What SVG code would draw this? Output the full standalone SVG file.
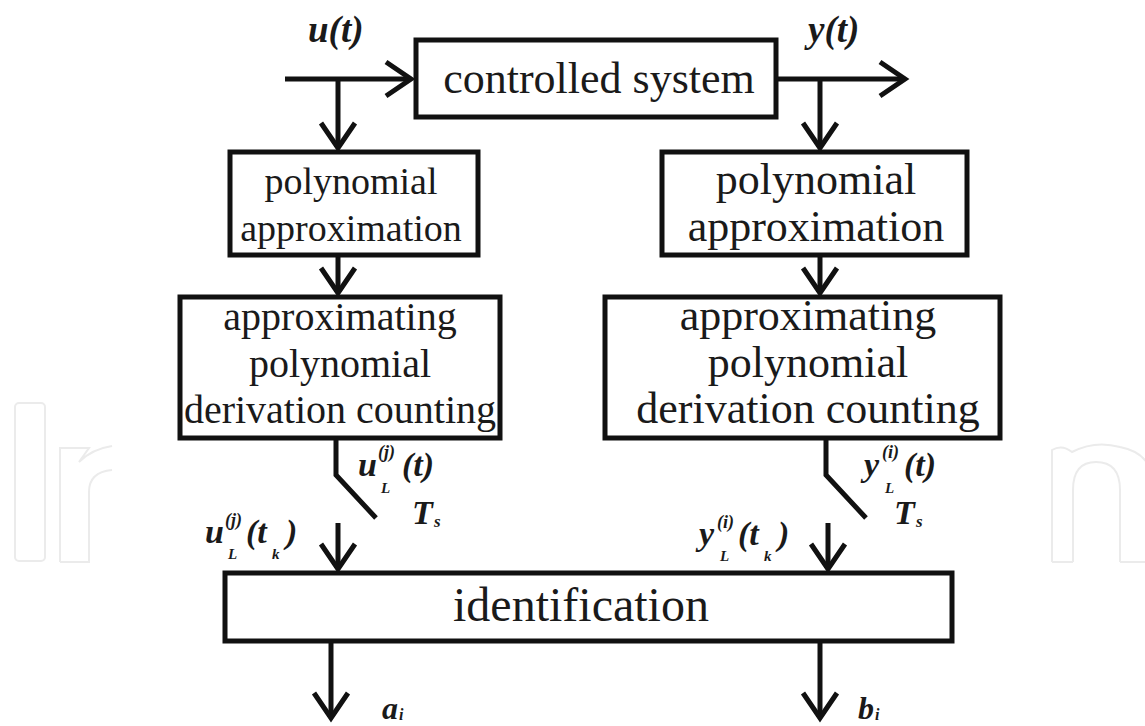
<svg xmlns="http://www.w3.org/2000/svg" width="1145" height="726" viewBox="0 0 1145 726">
<defs>
<style>
.box{fill:#fff;stroke:#111;stroke-width:5}
.ln{fill:none;stroke:#111;stroke-width:5}
.t{font-family:"Liberation Serif","Times New Roman",serif;text-anchor:middle;fill:#1a1a1a}
.s44{font-size:44px}
.s40{font-size:40px}
.s38{font-size:38px}
.s48{font-size:48px}
.v{font-family:"Liberation Serif","Times New Roman",serif;font-weight:bold;font-style:italic;fill:#1a1a1a}
.wm{fill:none;stroke:#ebebeb;stroke-width:2}
</style>
<marker id="ah" markerUnits="userSpaceOnUse" markerWidth="40" markerHeight="40" viewBox="-30 -20 34 40" refX="0" refY="0" orient="auto">
<path d="M-25,-17 L0,0 L-25,17" fill="none" stroke="#111" stroke-width="5"/>
</marker>
</defs>
<rect width="1145" height="726" fill="#fff"/>
<g id="watermark">
<rect class="wm" x="15" y="403" width="30" height="158" rx="4"/>
<path class="wm" d="M60,562 V448 H89 L79,462 Q92,449 112,446"/>
<path class="wm" d="M60,562 H89 V492 Q89,472 112,470"/>
<path class="wm" d="M1052,562 V450 Q1062,444 1072,452 Q1095,440 1120,447 Q1145,452 1150,470"/>
<path class="wm" d="M1073,562 V490 Q1073,462 1096,462 Q1120,462 1120,490 V562"/>
<path class="wm" d="M1052,562 H1073 M1120,562 H1145"/>
</g>
<g id="connectors">
<path class="ln" d="M285,79 H411" marker-end="url(#ah)"/>
<path class="ln" d="M776,79 H905" marker-end="url(#ah)"/>
<path class="ln" d="M338,79 V148" marker-end="url(#ah)"/>
<path class="ln" d="M820,79 V148" marker-end="url(#ah)"/>
<path class="ln" d="M338,255 V293" marker-end="url(#ah)"/>
<path class="ln" d="M820,255 V293" marker-end="url(#ah)"/>
<path class="ln" d="M336,438 V475 L376,518" stroke-linejoin="miter"/>
<path class="ln" d="M826,438 V475 L866,518" stroke-linejoin="miter"/>
<path class="ln" d="M338,523 V569" marker-end="url(#ah)"/>
<path class="ln" d="M828,523 V569" marker-end="url(#ah)"/>
<path class="ln" d="M331,643 V718" marker-end="url(#ah)"/>
<path class="ln" d="M820,643 V718" marker-end="url(#ah)"/>
</g>
<g id="controlled-system">
<rect class="box" x="416" y="40" width="360" height="77"/>
<text class="t s44" x="599" y="93">controlled system</text>
</g>
<g id="poly-approx-u">
<rect class="box" x="230" y="152" width="248" height="103"/>
<text class="t s38" x="351" y="194">polynomial</text>
<text class="t s38" x="351" y="241">approximation</text>
</g>
<g id="poly-approx-y">
<rect class="box" x="662" y="152" width="305" height="103"/>
<text class="t s44" x="816" y="194">polynomial</text>
<text class="t s44" x="816" y="241">approximation</text>
</g>
<g id="derivation-u">
<rect class="box" x="180" y="297" width="320" height="141"/>
<text class="t s40" x="340" y="330">approximating</text>
<text class="t s40" x="340" y="377">polynomial</text>
<text class="t s40" x="340" y="423">derivation counting</text>
</g>
<g id="derivation-y">
<rect class="box" x="605" y="297" width="395" height="141"/>
<text class="t s44" x="808" y="330">approximating</text>
<text class="t s44" x="808" y="377">polynomial</text>
<text class="t s44" x="808" y="423">derivation counting</text>
</g>
<g id="identification">
<rect class="box" x="225" y="573" width="727" height="68"/>
<text class="t s48" x="581" y="621">identification</text>
</g>
<g id="labels">
<text class="v" x="308" y="42" font-size="37">u(t)</text>
<text class="v" x="808" y="42" font-size="37">y(t)</text>
<text class="v" x="358" y="476" font-size="34">u</text>
<text class="v" x="378" y="458" font-size="18">(j)</text>
<text class="v" x="381" y="493" font-size="15">L</text>
<text class="v" x="402" y="476" font-size="34">(t)</text>
<text class="v" x="412" y="524" font-size="34">T</text>
<text class="v" x="434" y="527" font-size="17">s</text>
<text class="v" x="205" y="543" font-size="34">u</text>
<text class="v" x="225" y="526" font-size="18">(j)</text>
<text class="v" x="228" y="559" font-size="15">L</text>
<text class="v" x="246" y="543" font-size="34">(t</text>
<text class="v" x="272" y="559" font-size="15">k</text>
<text class="v" x="286" y="543" font-size="34">)</text>
<text class="v" x="864" y="476" font-size="34">y</text>
<text class="v" x="882" y="458" font-size="18">(i)</text>
<text class="v" x="885" y="493" font-size="15">L</text>
<text class="v" x="904" y="476" font-size="34">(t)</text>
<text class="v" x="894" y="524" font-size="34">T</text>
<text class="v" x="916" y="527" font-size="17">s</text>
<text class="v" x="699" y="545" font-size="34">y</text>
<text class="v" x="717" y="528" font-size="18">(i)</text>
<text class="v" x="720" y="561" font-size="15">L</text>
<text class="v" x="738" y="545" font-size="34">(t</text>
<text class="v" x="764" y="561" font-size="15">k</text>
<text class="v" x="778" y="545" font-size="34">)</text>
<text class="v" x="382" y="719" font-size="32">a</text>
<text class="v" x="399" y="720" font-size="16">i</text>
<text class="v" x="858" y="719" font-size="32">b</text>
<text class="v" x="875" y="720" font-size="16">i</text>
</g>
</svg>
